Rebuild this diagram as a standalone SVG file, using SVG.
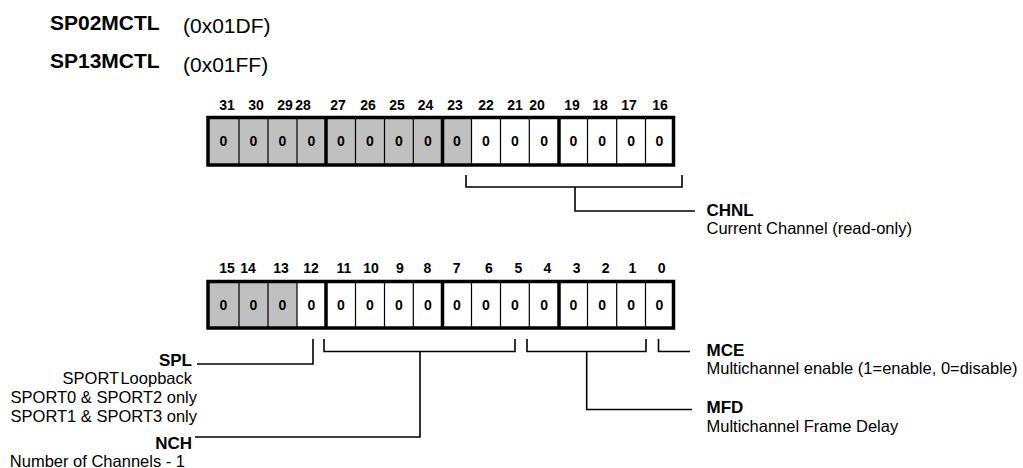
<svg xmlns="http://www.w3.org/2000/svg" width="1023" height="468" viewBox="0 0 1023 468">
<style>
text{font-family:"Liberation Sans",Arial,Helvetica,sans-serif;fill:#000}
.title{font-size:21px;font-weight:bold}
.addr{font-size:21px}
.bn{font-size:14px;font-weight:bold;text-anchor:middle}
.bv{font-size:14px;font-weight:bold;text-anchor:middle}
.lbl{font-size:17px;font-weight:bold}
.desc{font-size:16.5px}
.end{text-anchor:end}
.g{fill:#c0c0c0;stroke:none}
.w{fill:#fff;stroke:none}
.thin{stroke:#000;stroke-width:1.2;fill:none}
.thick{stroke:#000;stroke-width:3.5;fill:none}
.conn path{stroke:#000;stroke-width:1.6;fill:none}
</style>
<g id="title">
<text class="title" x="50" y="29.5">SP02MCTL</text>
<text class="addr" x="183" y="33">(0x01DF)</text>
<text class="title" x="50" y="68">SP13MCTL</text>
<text class="addr" x="183" y="71.5">(0x01FF)</text>
</g>
<g id="reg-high">
<rect class="g" x="208" y="117.5" width="263.5" height="47.5"/>
<rect class="w" x="471.5" y="117.5" width="202" height="47.5"/>
<path class="thin" d="M239,117.5V165M268,117.5V165M297,117.5V165M355.5,117.5V165M384.5,117.5V165M413.3,117.5V165M471.5,117.5V165M500.5,117.5V165M529.3,117.5V165M587.5,117.5V165M616.7,117.5V165M645.5,117.5V165"/>
<path class="thick" d="M326,117.5V165M442.5,117.5V165M559,117.5V165"/>
<rect class="thick" x="208" y="117.5" width="465.5" height="47.5"/>
<text class="bn" x="227" y="109.5">31</text>
<text class="bn" x="256" y="109.5">30</text>
<text class="bn" x="285" y="109.5">29</text>
<text class="bn" x="303" y="109.5">28</text>
<text class="bn" x="338" y="109.5">27</text>
<text class="bn" x="368" y="109.5">26</text>
<text class="bn" x="397" y="109.5">25</text>
<text class="bn" x="425.5" y="109.5">24</text>
<text class="bn" x="455" y="109.5">23</text>
<text class="bn" x="486" y="109.5">22</text>
<text class="bn" x="515" y="109.5">21</text>
<text class="bn" x="537" y="109.5">20</text>
<text class="bn" x="572" y="109.5">19</text>
<text class="bn" x="600" y="109.5">18</text>
<text class="bn" x="629" y="109.5">17</text>
<text class="bn" x="660" y="109.5">16</text>
<text class="bv" x="223.5" y="146">0</text>
<text class="bv" x="253.5" y="146">0</text>
<text class="bv" x="282.5" y="146">0</text>
<text class="bv" x="311.5" y="146">0</text>
<text class="bv" x="340.8" y="146">0</text>
<text class="bv" x="370" y="146">0</text>
<text class="bv" x="398.9" y="146">0</text>
<text class="bv" x="427.9" y="146">0</text>
<text class="bv" x="457" y="146">0</text>
<text class="bv" x="486" y="146">0</text>
<text class="bv" x="514.9" y="146">0</text>
<text class="bv" x="544.2" y="146">0</text>
<text class="bv" x="573.3" y="146">0</text>
<text class="bv" x="602.1" y="146">0</text>
<text class="bv" x="631.1" y="146">0</text>
<text class="bv" x="659.5" y="146">0</text>
</g>
<g id="reg-low">
<rect class="g" x="208" y="281.5" width="89" height="46.5"/>
<rect class="w" x="297" y="281.5" width="376.5" height="46.5"/>
<path class="thin" d="M239,281.5V328M268,281.5V328M297,281.5V328M355.5,281.5V328M384.5,281.5V328M413.3,281.5V328M471.5,281.5V328M500.5,281.5V328M529.3,281.5V328M587.5,281.5V328M616.7,281.5V328M645.5,281.5V328"/>
<path class="thick" d="M326,281.5V328M442.5,281.5V328M559,281.5V328"/>
<rect class="thick" x="208" y="281.5" width="465.5" height="46.5"/>
<text class="bn" x="227" y="272.7">15</text>
<text class="bn" x="248" y="272.7">14</text>
<text class="bn" x="281" y="272.7">13</text>
<text class="bn" x="311" y="272.7">12</text>
<text class="bn" x="344" y="272.7">11</text>
<text class="bn" x="371" y="272.7">10</text>
<text class="bn" x="400" y="272.7">9</text>
<text class="bn" x="427.5" y="272.7">8</text>
<text class="bn" x="456.7" y="272.7">7</text>
<text class="bn" x="489" y="272.7">6</text>
<text class="bn" x="518.3" y="272.7">5</text>
<text class="bn" x="547.3" y="272.7">4</text>
<text class="bn" x="576.7" y="272.7">3</text>
<text class="bn" x="605.7" y="272.7">2</text>
<text class="bn" x="632.3" y="272.7">1</text>
<text class="bn" x="661.7" y="272.7">0</text>
<text class="bv" x="223.5" y="310">0</text>
<text class="bv" x="253.5" y="310">0</text>
<text class="bv" x="282.5" y="310">0</text>
<text class="bv" x="311.5" y="310">0</text>
<text class="bv" x="340.8" y="310">0</text>
<text class="bv" x="370" y="310">0</text>
<text class="bv" x="398.9" y="310">0</text>
<text class="bv" x="427.9" y="310">0</text>
<text class="bv" x="457" y="310">0</text>
<text class="bv" x="486" y="310">0</text>
<text class="bv" x="514.9" y="310">0</text>
<text class="bv" x="544.2" y="310">0</text>
<text class="bv" x="573.3" y="310">0</text>
<text class="bv" x="602.1" y="310">0</text>
<text class="bv" x="631.1" y="310">0</text>
<text class="bv" x="659.5" y="310">0</text>
</g>
<g id="connectors" class="conn">
<path d="M466,175V187H682V175M575,187V211H695"/>
<path d="M313,339V364H197"/>
<path d="M324,339V351.5H515V339M420,351.5V437H195"/>
<path d="M527,339V351.5H646V339M586.7,351.5V409.5H692"/>
<path d="M658.5,339V351.5H690"/>
</g>
<g id="chnl">
<text class="lbl" x="706.5" y="216">CHNL</text>
<text class="desc" x="706.5" y="234">Current Channel (read-only)</text>
</g>
<g id="spl">
<text class="lbl end" x="192" y="365.5">SPL</text>
<text class="desc end" x="192" y="384" word-spacing="-3">SPORT Loopback</text>
<text class="desc end" x="197" y="403">SPORT0 &amp; SPORT2 only</text>
<text class="desc end" x="197" y="422">SPORT1 &amp; SPORT3 only</text>
</g>
<g id="nch">
<text class="lbl end" x="192" y="448.5">NCH</text>
<text class="desc end" x="185" y="466.5">Number of Channels - 1</text>
</g>
<g id="mce">
<text class="lbl" x="706.5" y="356">MCE</text>
<text class="desc" x="706.5" y="374">Multichannel enable (1=enable, 0=disable)</text>
</g>
<g id="mfd">
<text class="lbl" x="706.5" y="413">MFD</text>
<text class="desc" x="706.5" y="431.5">Multichannel Frame Delay</text>
</g>
</svg>
